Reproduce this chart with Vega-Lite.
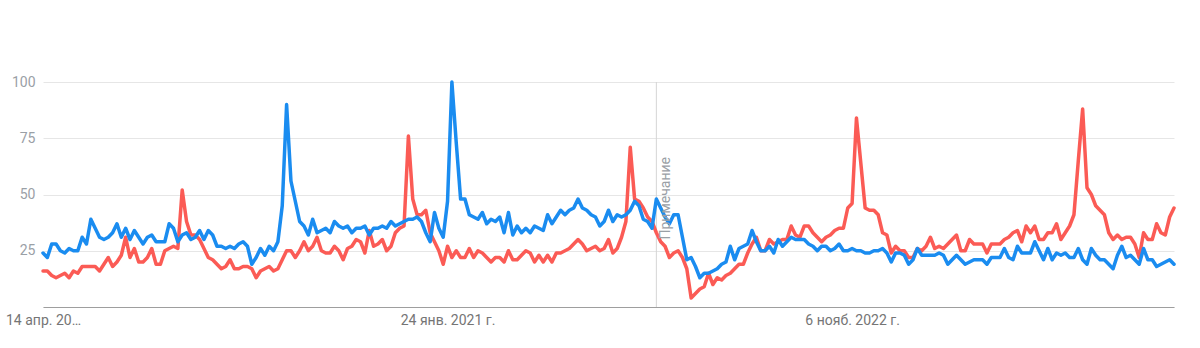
{
  "$schema": "https://vega.github.io/schema/vega-lite/v6.json",
  "autosize": "none",
  "width": 1131,
  "height": 225,
  "padding": {"left": 43, "top": 82, "right": 26, "bottom": 41},
  "background": "white",
  "config": {"view": {"stroke": null}, "font": "Roboto"},
  "datasets": {
    "trends": [
      {"date":"2019-04-14","b":24,"r":16},{"date":"2019-04-21","b":22,"r":16},{"date":"2019-04-28","b":28,"r":14},
      {"date":"2019-05-05","b":28,"r":13},{"date":"2019-05-12","b":25,"r":14},{"date":"2019-05-19","b":24,"r":15},{"date":"2019-05-26","b":26,"r":13},
      {"date":"2019-06-02","b":25,"r":16},{"date":"2019-06-09","b":25,"r":15},{"date":"2019-06-16","b":31,"r":18},{"date":"2019-06-23","b":28,"r":18},{"date":"2019-06-30","b":39,"r":18},
      {"date":"2019-07-07","b":35,"r":18},{"date":"2019-07-14","b":31,"r":16},{"date":"2019-07-21","b":30,"r":19},{"date":"2019-07-28","b":31,"r":22},
      {"date":"2019-08-04","b":33,"r":18},{"date":"2019-08-11","b":37,"r":20},{"date":"2019-08-18","b":31,"r":23},{"date":"2019-08-25","b":35,"r":31},
      {"date":"2019-09-01","b":30,"r":22},{"date":"2019-09-08","b":34,"r":26},{"date":"2019-09-15","b":31,"r":20},{"date":"2019-09-22","b":28,"r":20},{"date":"2019-09-29","b":31,"r":22},
      {"date":"2019-10-06","b":32,"r":26},{"date":"2019-10-13","b":29,"r":19},{"date":"2019-10-20","b":29,"r":19},{"date":"2019-10-27","b":29,"r":25},
      {"date":"2019-11-03","b":37,"r":26},{"date":"2019-11-10","b":35,"r":27},{"date":"2019-11-17","b":29,"r":26},{"date":"2019-11-24","b":32,"r":52},
      {"date":"2019-12-01","b":33,"r":38},{"date":"2019-12-08","b":30,"r":32},{"date":"2019-12-15","b":31,"r":32},{"date":"2019-12-22","b":34,"r":30},{"date":"2019-12-29","b":30,"r":26},
      {"date":"2020-01-05","b":34,"r":22},{"date":"2020-01-12","b":32,"r":21},{"date":"2020-01-19","b":27,"r":19},{"date":"2020-01-26","b":27,"r":17},
      {"date":"2020-02-02","b":26,"r":18},{"date":"2020-02-09","b":27,"r":21},{"date":"2020-02-16","b":26,"r":17},{"date":"2020-02-23","b":28,"r":17},
      {"date":"2020-03-01","b":29,"r":18},{"date":"2020-03-08","b":27,"r":18},{"date":"2020-03-15","b":19,"r":17},{"date":"2020-03-22","b":22,"r":13},{"date":"2020-03-29","b":26,"r":16},
      {"date":"2020-04-05","b":23,"r":17},{"date":"2020-04-12","b":27,"r":18},{"date":"2020-04-19","b":25,"r":16},{"date":"2020-04-26","b":29,"r":17},
      {"date":"2020-05-03","b":45,"r":21},{"date":"2020-05-10","b":90,"r":25},{"date":"2020-05-17","b":56,"r":25},{"date":"2020-05-24","b":47,"r":22},{"date":"2020-05-31","b":38,"r":25},
      {"date":"2020-06-07","b":36,"r":29},{"date":"2020-06-14","b":32,"r":25},{"date":"2020-06-21","b":39,"r":27},{"date":"2020-06-28","b":33,"r":31},
      {"date":"2020-07-05","b":34,"r":25},{"date":"2020-07-12","b":35,"r":24},{"date":"2020-07-19","b":33,"r":24},{"date":"2020-07-26","b":38,"r":27},
      {"date":"2020-08-02","b":36,"r":25},{"date":"2020-08-09","b":35,"r":21},{"date":"2020-08-16","b":36,"r":26},{"date":"2020-08-23","b":33,"r":27},{"date":"2020-08-30","b":35,"r":30},
      {"date":"2020-09-06","b":35,"r":29},{"date":"2020-09-13","b":36,"r":24},{"date":"2020-09-20","b":32,"r":34},{"date":"2020-09-27","b":35,"r":27},
      {"date":"2020-10-04","b":35,"r":28},{"date":"2020-10-11","b":36,"r":30},{"date":"2020-10-18","b":35,"r":25},{"date":"2020-10-25","b":38,"r":27},
      {"date":"2020-11-01","b":36,"r":33},{"date":"2020-11-08","b":37,"r":35},{"date":"2020-11-15","b":38,"r":36},{"date":"2020-11-22","b":39,"r":76},{"date":"2020-11-29","b":39,"r":48},
      {"date":"2020-12-06","b":40,"r":41},{"date":"2020-12-13","b":38,"r":41},{"date":"2020-12-20","b":33,"r":43},{"date":"2020-12-27","b":29,"r":33},
      {"date":"2021-01-03","b":42,"r":29},{"date":"2021-01-10","b":35,"r":25},{"date":"2021-01-17","b":31,"r":19},{"date":"2021-01-24","b":47,"r":27},{"date":"2021-01-31","b":100,"r":22},
      {"date":"2021-02-07","b":73,"r":25},{"date":"2021-02-14","b":48,"r":22},{"date":"2021-02-21","b":48,"r":22},{"date":"2021-02-28","b":41,"r":26},
      {"date":"2021-03-07","b":40,"r":22},{"date":"2021-03-14","b":39,"r":25},{"date":"2021-03-21","b":42,"r":24},{"date":"2021-03-28","b":37,"r":22},
      {"date":"2021-04-04","b":39,"r":20},{"date":"2021-04-11","b":38,"r":22},{"date":"2021-04-18","b":40,"r":22},{"date":"2021-04-25","b":33,"r":20},
      {"date":"2021-05-02","b":42,"r":25},{"date":"2021-05-09","b":32,"r":21},{"date":"2021-05-16","b":36,"r":21},{"date":"2021-05-23","b":33,"r":23},{"date":"2021-05-30","b":35,"r":25},
      {"date":"2021-06-06","b":33,"r":24},{"date":"2021-06-13","b":36,"r":20},{"date":"2021-06-20","b":35,"r":23},{"date":"2021-06-27","b":34,"r":20},
      {"date":"2021-07-04","b":41,"r":23},{"date":"2021-07-11","b":37,"r":20},{"date":"2021-07-18","b":40,"r":24},{"date":"2021-07-25","b":43,"r":24},
      {"date":"2021-08-01","b":41,"r":25},{"date":"2021-08-08","b":43,"r":26},{"date":"2021-08-15","b":44,"r":28},{"date":"2021-08-22","b":48,"r":30},{"date":"2021-08-29","b":44,"r":28},
      {"date":"2021-09-05","b":43,"r":25},{"date":"2021-09-12","b":41,"r":26},{"date":"2021-09-19","b":40,"r":27},{"date":"2021-09-26","b":36,"r":25},
      {"date":"2021-10-03","b":38,"r":26},{"date":"2021-10-10","b":43,"r":30},{"date":"2021-10-17","b":38,"r":24},{"date":"2021-10-24","b":41,"r":26},{"date":"2021-10-31","b":40,"r":31},
      {"date":"2021-11-07","b":41,"r":38},{"date":"2021-11-14","b":43,"r":71},{"date":"2021-11-21","b":47,"r":48},{"date":"2021-11-28","b":45,"r":47},
      {"date":"2021-12-05","b":39,"r":44},{"date":"2021-12-12","b":38,"r":40},{"date":"2021-12-19","b":35,"r":38},{"date":"2021-12-26","b":48,"r":33},
      {"date":"2022-01-02","b":44,"r":29},{"date":"2022-01-09","b":40,"r":27},{"date":"2022-01-16","b":37,"r":22},{"date":"2022-01-23","b":41,"r":24},{"date":"2022-01-30","b":41,"r":25},
      {"date":"2022-02-06","b":31,"r":22},{"date":"2022-02-13","b":21,"r":17},{"date":"2022-02-20","b":22,"r":4},{"date":"2022-02-27","b":18,"r":6},
      {"date":"2022-03-06","b":13,"r":8},{"date":"2022-03-13","b":15,"r":9},{"date":"2022-03-20","b":15,"r":15},{"date":"2022-03-27","b":16,"r":10},
      {"date":"2022-04-03","b":17,"r":13},{"date":"2022-04-10","b":19,"r":12},{"date":"2022-04-17","b":20,"r":14},{"date":"2022-04-24","b":27,"r":15},
      {"date":"2022-05-01","b":21,"r":17},{"date":"2022-05-08","b":26,"r":19},{"date":"2022-05-15","b":27,"r":19},{"date":"2022-05-22","b":28,"r":24},{"date":"2022-05-29","b":34,"r":28},
      {"date":"2022-06-05","b":29,"r":31},{"date":"2022-06-12","b":25,"r":25},{"date":"2022-06-19","b":25,"r":25},{"date":"2022-06-26","b":27,"r":30},
      {"date":"2022-07-03","b":24,"r":28},{"date":"2022-07-10","b":30,"r":29},{"date":"2022-07-17","b":27,"r":30},{"date":"2022-07-24","b":29,"r":30},{"date":"2022-07-31","b":31,"r":36},
      {"date":"2022-08-07","b":30,"r":32},{"date":"2022-08-14","b":30,"r":31},{"date":"2022-08-21","b":30,"r":36},{"date":"2022-08-28","b":28,"r":36},
      {"date":"2022-09-04","b":27,"r":33},{"date":"2022-09-11","b":25,"r":31},{"date":"2022-09-18","b":27,"r":29},{"date":"2022-09-25","b":27,"r":31},
      {"date":"2022-10-02","b":25,"r":32},{"date":"2022-10-09","b":26,"r":34},{"date":"2022-10-16","b":28,"r":35},{"date":"2022-10-23","b":25,"r":35},{"date":"2022-10-30","b":25,"r":44},
      {"date":"2022-11-06","b":26,"r":46},{"date":"2022-11-13","b":25,"r":84},{"date":"2022-11-20","b":25,"r":64},{"date":"2022-11-27","b":24,"r":44},
      {"date":"2022-12-04","b":24,"r":43},{"date":"2022-12-11","b":25,"r":43},{"date":"2022-12-18","b":25,"r":41},{"date":"2022-12-25","b":26,"r":33},
      {"date":"2023-01-01","b":24,"r":32},{"date":"2023-01-08","b":20,"r":24},{"date":"2023-01-15","b":24,"r":27},{"date":"2023-01-22","b":24,"r":25},{"date":"2023-01-29","b":23,"r":25},
      {"date":"2023-02-05","b":19,"r":22},{"date":"2023-02-12","b":21,"r":22},{"date":"2023-02-19","b":26,"r":26},{"date":"2023-02-26","b":23,"r":25},
      {"date":"2023-03-05","b":23,"r":27},{"date":"2023-03-12","b":23,"r":31},{"date":"2023-03-19","b":23,"r":26},{"date":"2023-03-26","b":24,"r":27},
      {"date":"2023-04-02","b":23,"r":26},{"date":"2023-04-09","b":19,"r":28},{"date":"2023-04-16","b":21,"r":30},{"date":"2023-04-23","b":23,"r":32},{"date":"2023-04-30","b":21,"r":25},
      {"date":"2023-05-07","b":19,"r":25},{"date":"2023-05-14","b":20,"r":30},{"date":"2023-05-21","b":21,"r":28},{"date":"2023-05-28","b":21,"r":28},
      {"date":"2023-06-04","b":21,"r":28},{"date":"2023-06-11","b":19,"r":24},{"date":"2023-06-18","b":22,"r":28},{"date":"2023-06-25","b":22,"r":28},
      {"date":"2023-07-02","b":22,"r":28},{"date":"2023-07-09","b":26,"r":30},{"date":"2023-07-16","b":22,"r":31},{"date":"2023-07-23","b":21,"r":33},{"date":"2023-07-30","b":27,"r":34},
      {"date":"2023-08-06","b":24,"r":29},{"date":"2023-08-13","b":24,"r":36},{"date":"2023-08-20","b":24,"r":33},{"date":"2023-08-27","b":29,"r":36},
      {"date":"2023-09-03","b":25,"r":30},{"date":"2023-09-10","b":21,"r":30},{"date":"2023-09-17","b":26,"r":33},{"date":"2023-09-24","b":21,"r":33},
      {"date":"2023-10-01","b":24,"r":37},{"date":"2023-10-08","b":23,"r":30},{"date":"2023-10-15","b":24,"r":33},{"date":"2023-10-22","b":22,"r":36},{"date":"2023-10-29","b":22,"r":41},
      {"date":"2023-11-05","b":26,"r":65},{"date":"2023-11-12","b":21,"r":88},{"date":"2023-11-19","b":19,"r":53},{"date":"2023-11-26","b":26,"r":50},
      {"date":"2023-12-03","b":23,"r":45},{"date":"2023-12-10","b":21,"r":43},{"date":"2023-12-17","b":21,"r":41},{"date":"2023-12-24","b":19,"r":33},{"date":"2023-12-31","b":17,"r":30},
      {"date":"2024-01-07","b":23,"r":32},{"date":"2024-01-14","b":27,"r":30},{"date":"2024-01-21","b":22,"r":31},{"date":"2024-01-28","b":23,"r":31},
      {"date":"2024-02-04","b":21,"r":28},{"date":"2024-02-11","b":19,"r":22},{"date":"2024-02-18","b":26,"r":33},{"date":"2024-02-25","b":21,"r":30},
      {"date":"2024-03-03","b":21,"r":30},{"date":"2024-03-10","b":18,"r":37},{"date":"2024-03-17","b":19,"r":33},{"date":"2024-03-24","b":20,"r":32},{"date":"2024-03-31","b":21,"r":40},
      {"date":"2024-04-07","b":19,"r":44}
    ],
    "notes": [{"date": "2021-12-26", "note": "Примечание", "pos": 30}]
  },
  "layer": [
    {
      "data": {"name": "notes"},
      "mark": {"type": "rule", "color": "#d5d5d5", "strokeWidth": 1},
      "encoding": {
        "x": {"field": "date", "type": "temporal", "scale": {"type": "utc"}}
      }
    },
    {
      "data": {"name": "trends"},
      "transform": [{"fold": ["r", "b"], "as": ["series", "value"]}],
      "mark": {"type": "line", "strokeWidth": 3.5, "strokeJoin": "round", "strokeCap": "round"},
      "encoding": {
        "x": {
          "field": "date", "type": "temporal",
          "scale": {"type": "utc", "nice": false,
            "domain": [{"year": 2019, "month": 4, "date": 14, "utc": true}, {"year": 2024, "month": 4, "date": 7, "utc": true}]},
          "axis": {
            "title": null,
            "values": [{"year": 2019, "month": 4, "date": 14, "utc": true}, {"year": 2021, "month": 1, "date": 24, "utc": true}, {"year": 2022, "month": 11, "date": 6, "utc": true}],
            "labelExpr": "utcmonth(datum.value) == 3 ? '14 апр. 20…' : (utcmonth(datum.value) == 0 ? '24 янв. 2021 г.' : '6 нояб. 2022 г.')",
            "labelFlush": false, "labelOverlap": false, "labelBound": false,
            "labelFont": "Roboto", "labelFontSize": 14, "labelColor": "#757575", "labelPadding": 6,
            "ticks": false, "grid": false, "domain": true, "domainColor": "#9e9e9e", "domainWidth": 1
          }
        },
        "y": {
          "field": "value", "type": "quantitative",
          "scale": {"domain": [0, 100], "nice": false, "zero": true},
          "axis": {
            "title": null, "values": [0, 25, 50, 75, 100],
            "labelExpr": "datum.value == 0 ? '' : datum.label",
            "labelFont": "Roboto", "labelFontSize": 14, "labelColor": "#9aa0a6", "labelPadding": 8,
            "ticks": false, "domain": false, "grid": true, "gridColor": "#e6e6e6", "gridWidth": 1
          }
        },
        "color": {
          "field": "series", "type": "nominal",
          "scale": {"domain": ["r", "b"], "range": ["#fb5b55", "#1a8cf0"]},
          "legend": null
        }
      }
    },
    {
      "data": {"name": "notes"},
      "mark": {"type": "text", "angle": 270, "align": "left", "baseline": "top", "dy": 3, "font": "Roboto", "fontSize": 14, "color": "#9aa0a6"},
      "encoding": {
        "x": {"field": "date", "type": "temporal", "scale": {"type": "utc"}},
        "y": {"field": "pos", "type": "quantitative"},
        "text": {"field": "note"}
      }
    }
  ]
}
